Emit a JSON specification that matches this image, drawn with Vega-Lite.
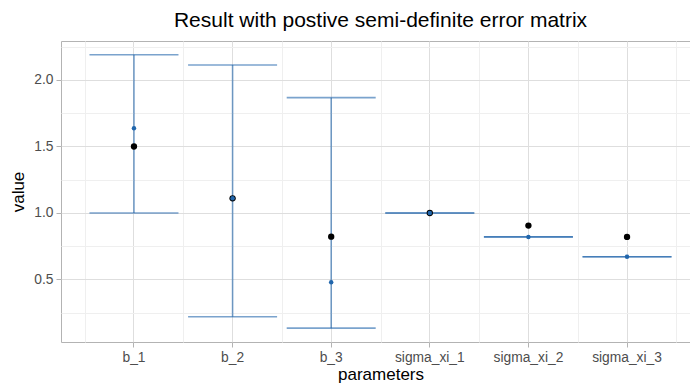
{
  "$schema": "https://vega.github.io/schema/vega-lite/v6.json",
  "width": 639,
  "height": 301,
  "autosize": {"type": "none"},
  "padding": {"left": 61, "top": 41, "right": 0, "bottom": 43},
  "background": "white",
  "title": {
    "text": "Result with postive semi-definite error matrix",
    "font": "Liberation Sans",
    "fontSize": 21,
    "fontWeight": "normal",
    "color": "black",
    "anchor": "middle",
    "offset": 10
  },
  "config": {
    "view": {"stroke": "#b3b3b3", "strokeWidth": 1},
    "axis": {
      "labelFont": "Liberation Sans",
      "titleFont": "Liberation Sans",
      "labelFontSize": 13.8,
      "labelColor": "#4d4d4d",
      "titleFontSize": 17,
      "titleFontWeight": "normal",
      "titleColor": "black",
      "domain": false,
      "tickColor": "#b3b3b3",
      "tickSize": 5,
      "labelPadding": 3
    }
  },
  "data": {
    "values": [
      {"parameter": "b_1", "truth": 1.5, "estimate": 1.637, "lower": 1.0, "upper": 2.19},
      {"parameter": "b_2", "truth": 1.11, "estimate": 1.11, "lower": 0.22, "upper": 2.113},
      {"parameter": "b_3", "truth": 0.822, "estimate": 0.479, "lower": 0.134, "upper": 1.867},
      {"parameter": "sigma_xi_1", "truth": 1.0, "estimate": 1.0, "lower": 1.0, "upper": 1.0},
      {"parameter": "sigma_xi_2", "truth": 0.905, "estimate": 0.82, "lower": 0.82, "upper": 0.82},
      {"parameter": "sigma_xi_3", "truth": 0.82, "estimate": 0.671, "lower": 0.671, "upper": 0.671}
    ]
  },
  "resolve": {"axis": {"x": "independent", "y": "independent"}},
  "layer": [
    {
      "mark": {"type": "rule", "color": "#2166ac", "opacity": 0.6, "strokeWidth": 1.6},
      "encoding": {
        "x": {
          "field": "parameter",
          "type": "nominal",
          "sort": null,
          "scale": {"type": "band", "paddingInner": 0, "paddingOuter": 0.24},
          "axis": {
            "orient": "top",
            "title": null,
            "labels": false,
            "ticks": false,
            "tickBand": "extent",
            "grid": true,
            "gridColor": "#efefef",
            "gridWidth": 1
          }
        },
        "y": {
          "field": "lower",
          "type": "quantitative",
          "scale": {"domain": [0.03, 2.293], "nice": false, "zero": false},
          "axis": {
            "orient": "left",
            "title": "value",
            "titlePadding": 6,
            "values": [0.5, 1.0, 1.5, 2.0],
            "format": ".1f",
            "grid": true,
            "gridColor": "#dedede",
            "gridWidth": 1
          }
        },
        "y2": {"field": "upper"}
      }
    },
    {
      "mark": {"type": "tick", "orient": "horizontal", "color": "#2166ac", "opacity": 0.6, "thickness": 1.6, "size": 89},
      "encoding": {
        "x": {"field": "parameter", "type": "nominal", "sort": null, "axis": null},
        "y": {
          "field": "upper",
          "type": "quantitative",
          "axis": {
            "orient": "right",
            "title": null,
            "labels": false,
            "ticks": false,
            "values": [0.25, 0.75, 1.25, 1.75, 2.25],
            "grid": true,
            "gridColor": "#efefef",
            "gridWidth": 1
          }
        }
      }
    },
    {
      "mark": {"type": "tick", "orient": "horizontal", "color": "#2166ac", "opacity": 0.6, "thickness": 1.6, "size": 89},
      "encoding": {
        "x": {"field": "parameter", "type": "nominal", "sort": null, "axis": null},
        "y": {"field": "lower", "type": "quantitative", "axis": null}
      }
    },
    {
      "mark": {"type": "point", "filled": true, "color": "black", "opacity": 1, "size": 40},
      "encoding": {
        "x": {
          "field": "parameter",
          "type": "nominal",
          "sort": null,
          "axis": {
            "orient": "bottom",
            "title": "parameters",
            "labelAngle": 0,
            "titlePadding": 3,
            "grid": true,
            "gridColor": "#dedede",
            "gridWidth": 1
          }
        },
        "y": {"field": "truth", "type": "quantitative", "axis": null}
      }
    },
    {
      "mark": {"type": "point", "filled": true, "color": "#2166ac", "opacity": 1, "size": 20},
      "encoding": {
        "x": {"field": "parameter", "type": "nominal", "sort": null, "axis": null},
        "y": {"field": "estimate", "type": "quantitative", "axis": null}
      }
    }
  ]
}
